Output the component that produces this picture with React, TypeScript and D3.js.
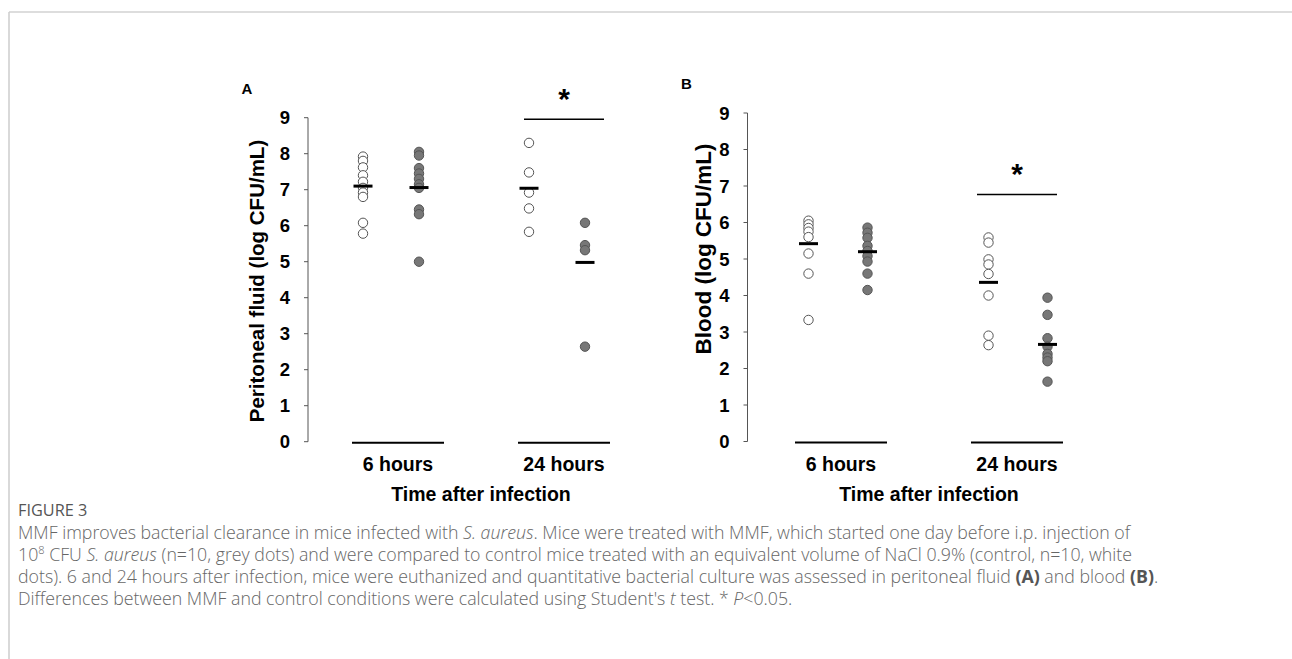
import React from "react";
import * as d3 from "d3";

// groups and conditions
const groups = ["6 hours", "24 hours"];
const conditions = ["Control", "MMF"];
const yTicks = [0, 1, 2, 3, 4, 5, 6, 7, 8, 9];

// panel A - peritoneal fluid (log CFU/mL)
const ctrl6A = [7.92, 7.8, 7.62, 7.4, 7.22, 7.05, 6.92, 6.8, 6.08, 5.78];
const mmf6A = [8.05, 7.95, 7.6, 7.45, 7.3, 7.15, 7.05, 6.45, 6.32, 5.0];
const ctrl24A = [8.3, 7.48, 6.92, 6.48, 5.83];
const mmf24A = [6.08, 5.46, 5.32, 2.64];
const meansA = [7.1, 7.06, 7.04, 4.98];

// panel B - blood (log CFU/mL)
const ctrl6B = [6.05, 5.95, 5.85, 5.75, 5.6, 5.15, 4.6, 3.33];
const mmf6B = [5.86, 5.72, 5.58, 5.36, 5.22, 5.08, 4.93, 4.6, 4.15];
const ctrl24B = [5.59, 5.45, 4.99, 4.85, 4.59, 4.0, 2.9, 2.64];
const mmf24B = [3.94, 3.47, 2.83, 2.6, 2.4, 2.3, 2.2, 1.64];
const meansB = [5.42, 5.2, 4.36, 2.66];

// significance bar height (data units), 24 hours group
const sigA = 8.96;
const sigB = 6.77;

const FONT = "'Liberation Sans', Arial, sans-serif";

type PanelProps = {
  letter: string;
  title: string;
  titleSize: number;
  series: number[][];
  means: number[];
  sig: number;
  axisX: number;
  yRange: [number, number];
  dotRange: [number, number];
  dotSpread: number;
  labelRange: [number, number];
  titleX: number;
  titleY: number;
};

function Panel(p: PanelProps) {
  const y = d3.scaleLinear().domain([0, 9]).range(p.yRange);
  const xg = d3.scalePoint().domain(groups).range(p.dotRange);
  const xc = d3.scalePoint().domain(conditions).range([-p.dotSpread, p.dotSpread]);
  const xl = d3.scalePoint().domain(groups).range(p.labelRange);
  const halfLine = 46;

  const cols = groups.flatMap((g) => conditions.map((c) => ({ g, c })));

  return (
    <g fontFamily={FONT} fontWeight="bold" fill="#000">
      <text x={p.axisX - 61} y={p.yRange[1] - 24} fontSize={15} textAnchor="middle">
        {p.letter}
      </text>
      {/* y axis */}
      <line x1={p.axisX} x2={p.axisX} y1={y(0)} y2={y(9)} stroke="#555" strokeWidth={1} />
      {yTicks.map((t) => (
        <g key={t}>
          <line x1={p.axisX - 4} x2={p.axisX} y1={y(t)} y2={y(t)} stroke="#555" strokeWidth={1} />
          <text x={p.axisX - 18} y={y(t)} dy="0.36em" fontSize={18.5} textAnchor="end">
            {t}
          </text>
        </g>
      ))}
      <text
        transform={`translate(${p.titleX},${p.titleY}) rotate(-90)`}
        fontSize={p.titleSize}
        textAnchor="middle"
      >
        {p.title}
      </text>

      {/* baseline segments and group labels */}
      {groups.map((g) => (
        <g key={g}>
          <line
            x1={xl(g)! - halfLine}
            x2={xl(g)! + halfLine}
            y1={y(0) + 1}
            y2={y(0) + 1}
            stroke="#000"
            strokeWidth={2}
          />
          <text x={xl(g)!} y={y(0) + 29.5} fontSize={19.5} textAnchor="middle">
            {g}
          </text>
        </g>
      ))}
      <text x={(xl(groups[0])! + xl(groups[1])!) / 2} y={y(0) + 59.5} fontSize={19.5} textAnchor="middle">
        Time after infection
      </text>

      {/* dots */}
      {cols.map((col, i) =>
        p.series[i].map((v, j) => (
          <circle
            key={`${i}-${j}`}
            cx={xg(col.g)! + xc(col.c)!}
            cy={y(v)}
            r={4.7}
            fill={col.c === "Control" ? "#fff" : "#777"}
            stroke="#555"
            strokeWidth={1}
          />
        ))
      )}
      {/* mean bars */}
      {cols.map((col, i) => (
        <line
          key={`m${i}`}
          x1={xg(col.g)! + xc(col.c)! - 9.5}
          x2={xg(col.g)! + xc(col.c)! + 9.5}
          y1={y(p.means[i])}
          y2={y(p.means[i])}
          stroke="#000"
          strokeWidth={3}
        />
      ))}

      {/* significance */}
      <line
        x1={xl(groups[1])! - 40}
        x2={xl(groups[1])! + 40}
        y1={y(p.sig)}
        y2={y(p.sig)}
        stroke="#000"
        strokeWidth={1.5}
      />
      <text x={xl(groups[1])!} y={y(p.sig) - 10} fontSize={30} textAnchor="middle">
        *
      </text>
    </g>
  );
}

export default function App() {
  const capFont = "'Open Sans', 'Noto Sans', sans-serif";
  const capColor = "#666";
  const capX = 18;
  const capSize = 17.75;
  return (
    <svg
      width={1292}
      height={659}
      style={{ position: "absolute", left: 0, top: 0, background: "#fff" }}
    >
      <line x1={9} x2={1292} y1={12} y2={12} stroke="#ddd" strokeWidth={2} />
      <line x1={9} x2={9} y1={12} y2={659} stroke="#ccc" strokeWidth={1.5} />

      <Panel
        letter="A"
        title="Peritoneal fluid (log CFU/mL)"
        titleSize={20.5}
        series={[ctrl6A, mmf6A, ctrl24A, mmf24A]}
        means={meansA}
        sig={sigA}
        axisX={308}
        yRange={[441.7, 117.7]}
        dotRange={[391, 557]}
        dotSpread={28}
        labelRange={[398, 564]}
        titleX={264}
        titleY={281}
      />
      <Panel
        letter="B"
        title="Blood (log CFU/mL)"
        titleSize={22.5}
        series={[ctrl6B, mmf6B, ctrl24B, mmf24B]}
        means={meansB}
        sig={sigB}
        axisX={747.5}
        yRange={[441.5, 113]}
        dotRange={[838, 1018]}
        dotSpread={29.5}
        labelRange={[841, 1017]}
        titleX={711}
        titleY={249}
      />

      <g fontFamily={capFont} fill={capColor} fontSize={capSize} fontWeight={300}>
        <text x={capX} y={516} fontSize={16.3} fill="#555" fontWeight={400}>
          FIGURE 3
        </text>
        <text x={capX} y={539}>
          MMF improves bacterial clearance in mice infected with <tspan fontStyle="italic">S. aureus</tspan>. Mice
          were treated with MMF, which started one day before i.p. injection of
        </text>
        <text x={capX} y={561}>
          10<tspan fontSize={11} dy={-7}>8</tspan>
          <tspan dy={7}> CFU </tspan>
          <tspan fontStyle="italic">S. aureus</tspan> (n=10, grey dots) and were compared to control mice treated with
          an equivalent volume of NaCl 0.9% (control, n=10, white
        </text>
        <text x={capX} y={583}>
          dots). 6 and 24 hours after infection, mice were euthanized and quantitative bacterial culture was assessed
          in peritoneal fluid <tspan fontWeight="bold" fill="#555">(A)</tspan> and blood{" "}
          <tspan fontWeight="bold" fill="#555">(B)</tspan>.
        </text>
        <text x={capX} y={605}>
          Differences between MMF and control conditions were calculated using Student's{" "}
          <tspan fontStyle="italic">t</tspan> test. * <tspan fontStyle="italic">P</tspan>&lt;0.05.
        </text>
      </g>
    </svg>
  );
}
